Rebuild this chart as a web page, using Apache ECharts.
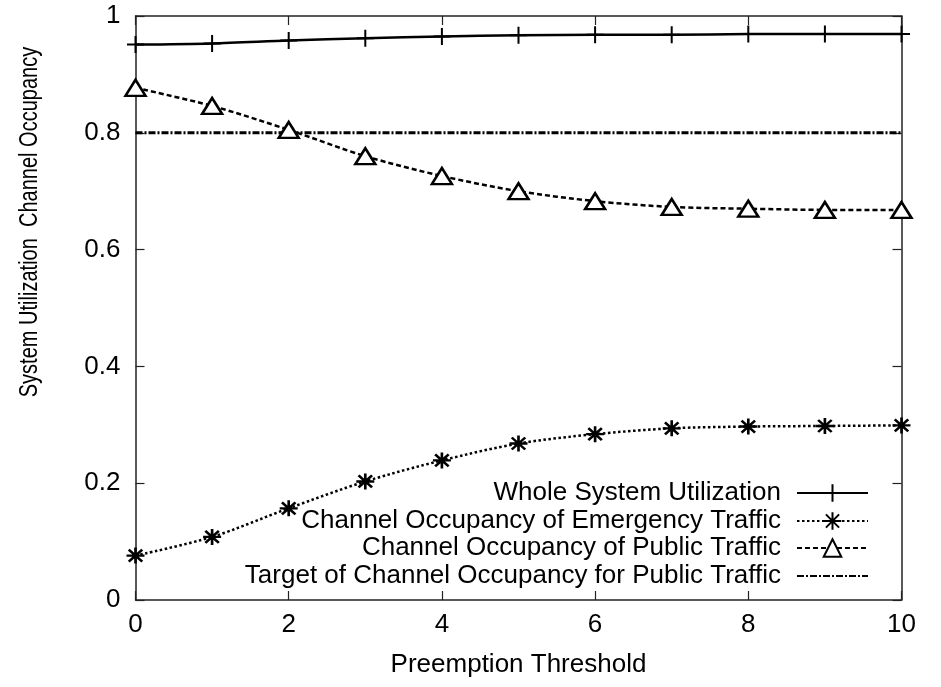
<!DOCTYPE html>
<html>
<head>
<meta charset="utf-8">
<script src="https://cdn.jsdelivr.net/npm/echarts@6/dist/echarts.min.js"></script>
<style>
  html, body { margin: 0; padding: 0; background: #fff; }
  #chart { width: 941px; height: 687px; }
</style>
</head>
<body>
<div id="chart"></div>
<script>
// Preemption threshold values on the x axis
const thresholds = [0, 1, 2, 3, 4, 5, 6, 7, 8, 9, 10];
// Whole system utilization
const wholeUtil = [0.951, 0.953, 0.958, 0.962, 0.965, 0.967, 0.968, 0.968, 0.969, 0.969, 0.969];
// Channel occupancy of emergency traffic
const emergencyOcc = [0.076, 0.108, 0.157, 0.203, 0.239, 0.268, 0.284, 0.294, 0.297, 0.298, 0.299];
// Channel occupancy of public traffic
const publicOcc = [0.877, 0.846, 0.805, 0.760, 0.726, 0.700, 0.683, 0.673, 0.670, 0.668, 0.668];
// Target occupancy for public traffic
const targetOcc = 0.8;
const xTicks = [0, 2, 4, 6, 8, 10];
const yTicks = [0, 0.2, 0.4, 0.6, 0.8, 1];

const names = [
  'Whole System Utilization',
  'Channel Occupancy of Emergency Traffic',
  'Channel Occupancy of Public Traffic',
  'Target of Channel Occupancy for Public Traffic'
];

const FONT = '"Liberation Sans", Arial, Helvetica, sans-serif';
const pair = (vals) => thresholds.map((x, i) => [x, vals[i]]);

const chart = echarts.init(document.getElementById('chart'), null, { renderer: 'canvas' });

const axisLine = { show: true, onZero: false, lineStyle: { color: '#222', width: 1.5 } };
const tick = { show: true, inside: true, length: 9, lineStyle: { color: '#222', width: 1.2 } };
const xBase = {
  type: 'value', min: xTicks[0], max: xTicks[xTicks.length - 1], interval: 2,
  splitLine: { show: false }, axisLine: axisLine, axisTick: tick
};
const yBase = {
  type: 'value', min: yTicks[0], max: yTicks[yTicks.length - 1], interval: 0.2,
  splitLine: { show: false }, axisLine: axisLine, axisTick: tick
};

const plusPath = 'path://M0,-10L0,10M-10,0L10,0';
const starPath = 'path://M0,-10L0,10M-10,0L10,0M-7.5,-7.5L7.5,7.5M-7.5,7.5L7.5,-7.5';

const legendRows = [493, 521, 548, 576];
const legends = names.map((n, i) => {
  const lg = {
    data: [n],
    right: 72,
    top: legendRows[i] - 13,
    orient: 'vertical',
    align: 'right',
    padding: 0,
    itemWidth: 71,
    itemHeight: 22,
    selectedMode: false,
    textStyle: { fontFamily: FONT, fontSize: 26, color: '#000', lineHeight: 26, padding: [0, 11, 0, 0] }
  };
  if (i === 3) {
    // the target line has no point marker
    lg.itemStyle = { color: 'rgba(0,0,0,0)', borderColor: 'rgba(0,0,0,0)', borderWidth: 0 };
  }
  return lg;
});

chart.setOption({
  animation: false,
  backgroundColor: '#fff',
  grid: { left: 135.5, right: 39.5, top: 16, bottom: 87, show: false },
  legend: legends,
  xAxis: [
    Object.assign({}, xBase, {
      position: 'bottom',
      name: 'Preemption Threshold', nameLocation: 'middle', nameGap: 52,
      nameTextStyle: { fontFamily: FONT, fontSize: 26, color: '#000' },
      axisLabel: { fontFamily: FONT, fontSize: 26, color: '#000', margin: 12 }
    }),
    Object.assign({}, xBase, { position: 'top', axisLabel: { show: false } })
  ],
  yAxis: [
    Object.assign({}, yBase, {
      position: 'left',
      axisLabel: { fontFamily: FONT, fontSize: 26, color: '#000', margin: 15 }
    }),
    Object.assign({}, yBase, { position: 'right', axisLabel: { show: false } })
  ],
  graphic: [{
    type: 'text',
    x: 30, y: 222,
    rotation: Math.PI / 2,
    scaleX: 0.77,
    style: {
      text: 'System Utilization  Channel Occupancy',
      fontFamily: FONT, fontSize: 26, fill: '#000',
      textAlign: 'center', textVerticalAlign: 'middle'
    }
  }],
  series: [
    {
      name: names[0], type: 'line', data: pair(wholeUtil), smooth: 0.3, clip: false,
      symbol: plusPath, symbolSize: 17,
      lineStyle: { color: '#000', width: 2.5, type: 'solid' },
      itemStyle: { color: '#000', borderColor: '#000', borderWidth: 2 }
    },
    {
      name: names[1], type: 'line', data: pair(emergencyOcc), smooth: 0.3, clip: false,
      symbol: starPath, symbolSize: [18, 16],
      lineStyle: { color: '#000', width: 2.5, type: [2.5, 2.5] },
      itemStyle: { color: '#000', borderColor: '#000', borderWidth: 2.5 }
    },
    {
      name: names[2], type: 'line', data: pair(publicOcc), smooth: 0.3, clip: false,
      symbol: 'triangle', symbolSize: [20, 16],
      lineStyle: { color: '#000', width: 2.5, type: [5, 3] },
      itemStyle: { color: '#fff', borderColor: '#000', borderWidth: 2.5 }
    },
    {
      name: names[3], type: 'line',
      data: [[xTicks[0], targetOcc], [xTicks[xTicks.length - 1], targetOcc]],
      symbol: 'none',
      lineStyle: { color: '#000', width: 3, type: [7, 2, 2, 2] },
      itemStyle: { color: '#000' }
    }
  ]
});
</script>
</body>
</html>
